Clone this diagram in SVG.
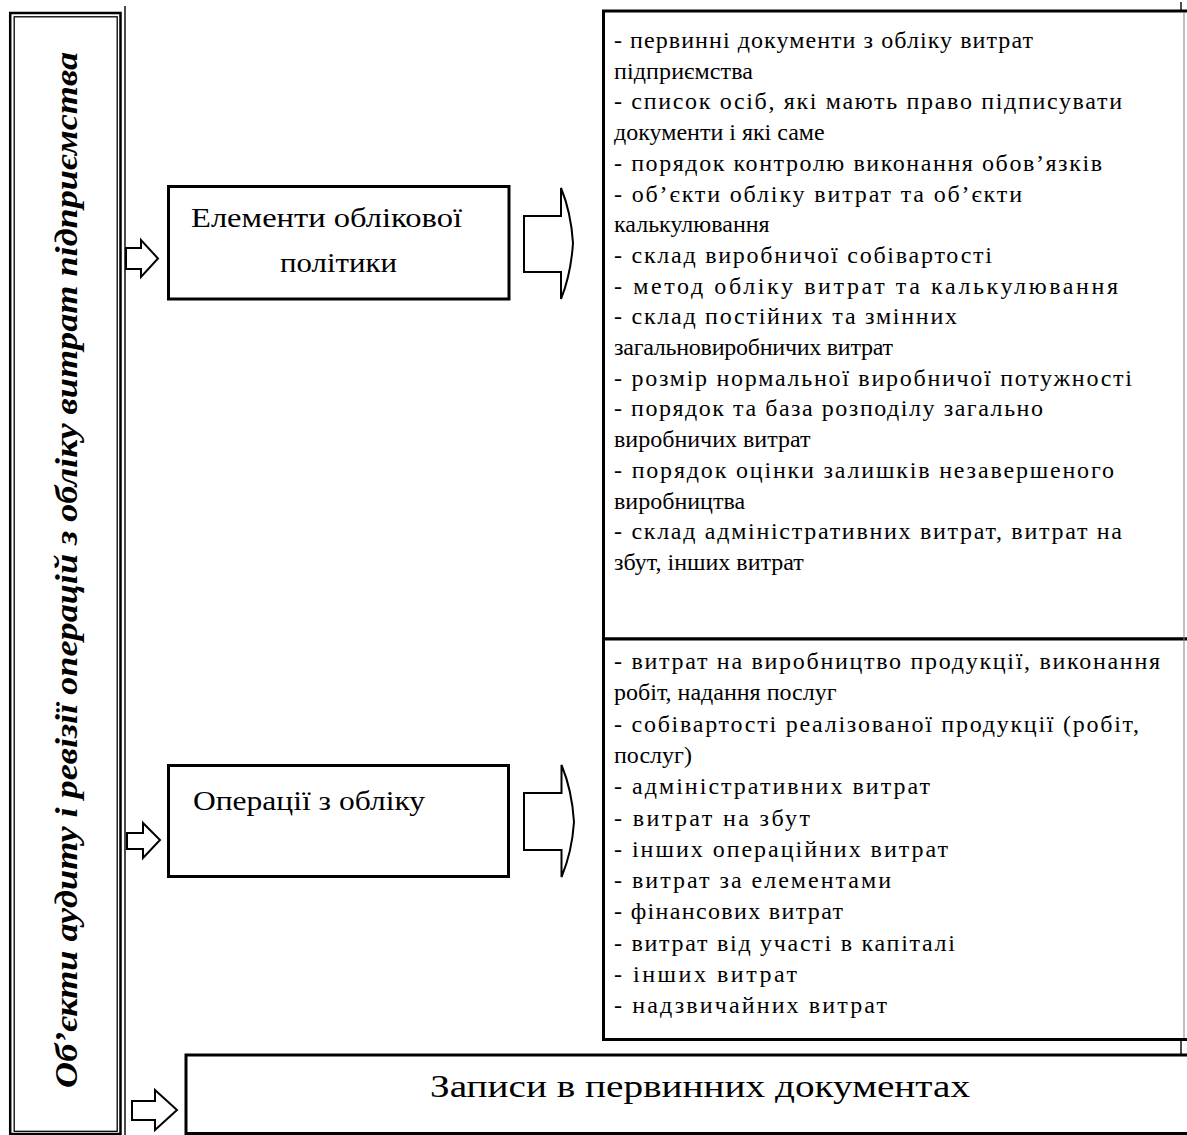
<svg xmlns="http://www.w3.org/2000/svg" width="1187" height="1135" viewBox="0 0 1187 1135">
<style>
.bg{fill:#ffffff}
.box{fill:#ffffff;stroke:#000000;stroke-width:3}
.thin{fill:none;stroke:#000000;stroke-width:1.4}
.gray{fill:none;stroke:#808080;stroke-width:1}
.arrow{fill:#ffffff;stroke:#000000;stroke-width:2;stroke-linejoin:miter}
.list{font-family:"Liberation Serif","Times New Roman",serif;font-size:24px;fill:#000000}
.lbl{font-family:"Liberation Serif","Times New Roman",serif;font-size:28px;fill:#000000}
.big{font-family:"Liberation Serif","Times New Roman",serif;font-size:31px;fill:#000000}
.title{font-family:"Liberation Serif","Times New Roman",serif;font-size:32px;font-weight:bold;font-style:italic;fill:#000000}
</style>
<rect class="bg" x="0" y="0" width="1187" height="1135"/>

<g id="title-box">
  <rect x="10.2" y="13" width="110.3" height="1121" fill="#ffffff" stroke="#000000" stroke-width="2.5"/>
  <rect x="14.2" y="16.8" width="103" height="1114.5" fill="none" stroke="#000000" stroke-width="1.3"/>
  <text class="title" transform="translate(77,1088) rotate(-90)" x="0" y="0" textLength="1036" lengthAdjust="spacingAndGlyphs">Об’єкти аудиту і ревізії операцій з обліку витрат підприємства</text>
</g>

<g id="frame-lines">
  <line class="thin" x1="125" y1="6" x2="125" y2="1135"/>
  <line class="thin" x1="1181" y1="2" x2="1181" y2="10"/>
  <line class="thin" x1="1181" y1="1040" x2="1181" y2="1055"/>
</g>

<g id="box-elements">
  <rect class="box" x="168.5" y="186.5" width="340.5" height="112.5"/>
  <text class="lbl" x="191" y="227" textLength="271" lengthAdjust="spacingAndGlyphs">Елементи облікової</text>
  <text class="lbl" x="280" y="272" textLength="117" lengthAdjust="spacingAndGlyphs">політики</text>
</g>

<g id="box-operations">
  <rect class="box" x="168.5" y="765.5" width="340" height="111"/>
  <text class="lbl" x="193" y="810" textLength="232" lengthAdjust="spacingAndGlyphs">Операції з обліку</text>
</g>

<g id="list-policy">
  <rect class="box" x="603.5" y="11" width="600" height="628"/>
  <g class="list">
    <text x="614" y="48" textLength="419">- первинні документи з обліку витрат</text>
    <text x="614" y="78.7" textLength="139">підприємства</text>
    <text x="614" y="109.4" textLength="508">- список осіб, які мають право підписувати</text>
    <text x="614" y="140.1">документи і які саме</text>
    <text x="614" y="170.8" textLength="488">- порядок контролю виконання обов’язків</text>
    <text x="614" y="201.5" textLength="408">- об’єкти обліку витрат та об’єкти</text>
    <text x="614" y="232.2">калькулювання</text>
    <text x="614" y="262.9" textLength="378">- склад виробничої собівартості</text>
    <text x="614" y="293.6" textLength="504">- метод обліку витрат та калькулювання</text>
    <text x="614" y="324.3" textLength="343">- склад постійних та змінних</text>
    <text x="614" y="355" textLength="279">загальновиробничих витрат</text>
    <text x="614" y="385.7" textLength="518">- розмір нормальної виробничої потужності</text>
    <text x="614" y="416.4" textLength="429">- порядок та база розподілу загально</text>
    <text x="614" y="447.1">виробничих витрат</text>
    <text x="614" y="477.8" textLength="500">- порядок оцінки залишків незавершеного</text>
    <text x="614" y="508.5">виробництва</text>
    <text x="614" y="539.2" textLength="508">- склад адміністративних витрат, витрат на</text>
    <text x="614" y="569.9">збут, інших витрат</text>
  </g>
</g>

<g id="list-operations">
  <rect class="box" x="603.5" y="639" width="600" height="400.5"/>
  <g class="list">
    <text x="614" y="669" textLength="546">- витрат на виробництво продукції, виконання</text>
    <text x="614" y="700.3">робіт, надання послуг</text>
    <text x="614" y="731.6" textLength="525">- собівартості реалізованої продукції (робіт,</text>
    <text x="614" y="762.9">послуг)</text>
    <text x="614" y="794.2" textLength="316">- адміністративних витрат</text>
    <text x="614" y="825.5" textLength="196">- витрат на збут</text>
    <text x="614" y="856.8" textLength="334">- інших операційних витрат</text>
    <text x="614" y="888.1" textLength="277">- витрат за елементами</text>
    <text x="614" y="919.4" textLength="229">- фінансових витрат</text>
    <text x="614" y="950.7" textLength="341">- витрат від участі в капіталі</text>
    <text x="614" y="982" textLength="183">- інших витрат</text>
    <text x="614" y="1013.3" textLength="273">- надзвичайних витрат</text>
  </g>
</g>

<g id="box-records">
  <rect class="box" x="186" y="1055" width="1020" height="78.5"/>
  <text class="big" x="430" y="1097" textLength="540" lengthAdjust="spacingAndGlyphs">Записи в первинних документах</text>
</g>

<line class="gray" x1="1184" y1="12" x2="1184" y2="1038"/>

<g id="connectors">
  <path class="arrow" d="M126,248 H141 V240 L158,258.5 L141,277 V269 H126 Z"/>
  <path class="arrow" d="M127,833 H143 V823 L160,840 L143,858 V849 H127 Z"/>
  <path class="arrow" d="M132,1101 H155 V1090 L177,1110 L155,1130 V1120 H132 Z"/>
  <path class="arrow" d="M524,216 H561 V188 Q571,212 573,243 Q571,274 561,299 V272 H524 Z"/>
  <path class="arrow" d="M524,793 H561.5 V765 Q572,790 574,822 Q572,852 561.5,877 V850 H524 Z"/>
</g>
</svg>
